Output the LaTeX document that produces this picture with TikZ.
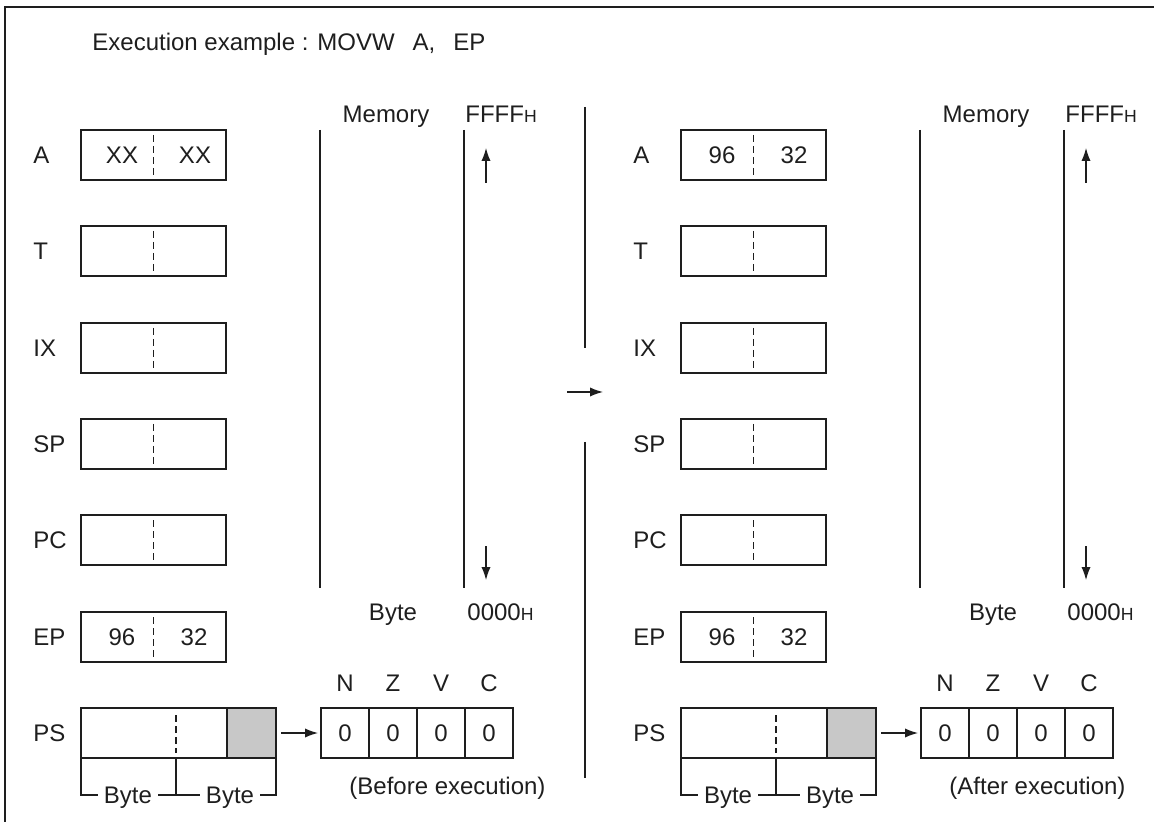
\documentclass[tikz,border=0pt]{standalone}
\usepackage{fontspec}
\setmainfont{Liberation Sans}
\usetikzlibrary{arrows.meta,positioning}
\definecolor{ccrgray}{HTML}{C8C8C8}
\definecolor{ink}{HTML}{1E1E1E}
\newcommand{\hexsuf}{{\fontsize{8.8pt}{10pt}\selectfont H}}

\begin{document}
\begin{tikzpicture}[
  x=0.5pt, y=-0.5pt,
  font=\fontsize{12pt}{14pt}\selectfont, color=ink,
  txt/.style={inner sep=0pt, text height=8.6pt, text depth=0pt},
  divider/.style={line width=0.6pt, dash pattern=on 3.5pt off 2pt},
  reg/.style={draw, line width=0.6pt, minimum width=72.5pt, minimum height=25pt,
              inner sep=0pt, outer sep=0pt,
              path picture={\draw[divider] ([yshift=-2.5pt]path picture bounding box.north)
                                        -- ([yshift=2.5pt]path picture bounding box.south);}},
  psreg/.style={draw, line width=0.6pt, minimum width=73pt, minimum height=25pt,
                inner sep=0pt, outer sep=0pt},
  flag/.style={draw, line width=0.6pt, minimum width=24pt, minimum height=25pt,
               inner sep=0pt, outer sep=0pt, text height=8.6pt, text depth=0pt},
  brace/.style={txt, inner xsep=3pt},
  thinline/.style={line width=0.6pt},
  flow/.style={draw, line width=0.6pt, -{Latex[length=6.5pt, width=4.6pt]}},
  frame/.style={line width=1.3pt}
]
\useasboundingbox (0,0) rectangle (1154,822);
\draw[frame] (5,830) -- (5,7) -- (1160,7);

\node[txt, anchor=west] (title) at (92,42)
  {Execution example : MOVW\hspace{0.75em}A,\hspace{0.75em}EP};

% ---- before execution ----
\node[txt, anchor=west] (bAlab)  at (33,155) {A};
\node[txt, anchor=west] (bTlab)  at (33,251) {T};
\node[txt, anchor=west] (bIXlab) at (33,348) {IX};
\node[txt, anchor=west] (bSPlab) at (33,444) {SP};
\node[txt, anchor=west] (bPClab) at (33,540) {PC};
\node[txt, anchor=west] (bEPlab) at (33,637) {EP};
\node[txt, anchor=west] (bPSlab) at (33,733) {PS};

\node[reg] (bA)  at (153.5,155) {};
\node[reg] (bT)  at (153.5,251) {};
\node[reg] (bIX) at (153.5,348) {};
\node[reg] (bSP) at (153.5,444) {};
\node[reg] (bPC) at (153.5,540) {};
\node[reg] (bEP) at (153.5,637) {};
\node[txt] (bAhi)  at (122,155) {XX};
\node[txt] (bAlo)  at (195,155) {XX};
\node[txt] (bEPhi) at (122,637) {96};
\node[txt] (bEPlo) at (194,637) {32};

\node[psreg] (bPS) at (154,733) {};
\node[psreg, fill=ccrgray, minimum width=24.5pt, right=0pt of bPS] (bCCR) {};
\coordinate (bmid)    at ([xshift=11pt]bPS.south);
\coordinate (bmidtop) at ([xshift=11pt]bPS.north);
\draw[divider] ([yshift=-3.5pt]bmidtop) -- ([yshift=2.5pt]bmid);

\node[brace] (bbyte1) at (128,795) {Byte};
\node[brace] (bbyte2) at (230,795) {Byte};
\draw[thinline] (bPS.south west) |- (bbyte1.west);
\draw[thinline] (bbyte1.east) -- (bbyte2.west);
\draw[thinline] (bmid) -- (bmid |- bbyte1.east);
\draw[thinline] (bbyte2.east) -| (bCCR.south east);

\node[flag] (bN) at (345,733) {0};
\node[flag, right=0pt of bN] (bZ) {0};
\node[flag, right=0pt of bZ] (bV) {0};
\node[flag, right=0pt of bV] (bC) {0};
\node[txt, above=8pt of bN] (bNlab) {N};
\node[txt, above=8pt of bZ] (bZlab) {Z};
\node[txt, above=8pt of bV] (bVlab) {V};
\node[txt, above=8pt of bC] (bClab) {C};
\draw[flow, shorten <=2.5pt, shorten >=1.5pt] (bCCR) -- (bN);
\node[txt, anchor=west] (bnote) at (349,786) {(Before execution)};

\draw[thinline] (320,130) -- (320,588);
\draw[thinline] (464,130) -- (464,588);
\node[txt] (bmem) at (386,113.5) {Memory};
\node[txt, anchor=west] (btop) at (465,113.5) {FFFF\hexsuf};
\node[txt] (bunit) at (393,612) {Byte};
\node[txt, anchor=west] (bbot) at (467,612) {0000\hexsuf};
\draw[flow] (486,183) -- (486,148);
\draw[flow] (486,546) -- (486,580);

% ---- separator ----
\draw[thinline] (585,107) -- (585,348);
\draw[thinline] (585,442) -- (585,778);
\draw[flow] (567,392) -- (603,392);

% ---- after execution ----
\node[txt, anchor=west] (aAlab)  at (633,155) {A};
\node[txt, anchor=west] (aTlab)  at (633,251) {T};
\node[txt, anchor=west] (aIXlab) at (633,348) {IX};
\node[txt, anchor=west] (aSPlab) at (633,444) {SP};
\node[txt, anchor=west] (aPClab) at (633,540) {PC};
\node[txt, anchor=west] (aEPlab) at (633,637) {EP};
\node[txt, anchor=west] (aPSlab) at (633,733) {PS};

\node[reg] (aA)  at (753.5,155) {};
\node[reg] (aT)  at (753.5,251) {};
\node[reg] (aIX) at (753.5,348) {};
\node[reg] (aSP) at (753.5,444) {};
\node[reg] (aPC) at (753.5,540) {};
\node[reg] (aEP) at (753.5,637) {};
\node[txt] (aAhi)  at (722,155) {96};
\node[txt] (aAlo)  at (794,155) {32};
\node[txt] (aEPhi) at (722,637) {96};
\node[txt] (aEPlo) at (794,637) {32};

\node[psreg] (aPS) at (754,733) {};
\node[psreg, fill=ccrgray, minimum width=24.5pt, right=0pt of aPS] (aCCR) {};
\coordinate (amid)    at ([xshift=11pt]aPS.south);
\coordinate (amidtop) at ([xshift=11pt]aPS.north);
\draw[divider] ([yshift=-3.5pt]amidtop) -- ([yshift=2.5pt]amid);

\node[brace] (abyte1) at (728,795) {Byte};
\node[brace] (abyte2) at (830,795) {Byte};
\draw[thinline] (aPS.south west) |- (abyte1.west);
\draw[thinline] (abyte1.east) -- (abyte2.west);
\draw[thinline] (amid) -- (amid |- abyte1.east);
\draw[thinline] (abyte2.east) -| (aCCR.south east);

\node[flag] (aN) at (945,733) {0};
\node[flag, right=0pt of aN] (aZ) {0};
\node[flag, right=0pt of aZ] (aV) {0};
\node[flag, right=0pt of aV] (aC) {0};
\node[txt, above=8pt of aN] (aNlab) {N};
\node[txt, above=8pt of aZ] (aZlab) {Z};
\node[txt, above=8pt of aV] (aVlab) {V};
\node[txt, above=8pt of aC] (aClab) {C};
\draw[flow, shorten <=2.5pt, shorten >=1.5pt] (aCCR) -- (aN);
\node[txt, anchor=west] (anote) at (949,786) {(After execution)};

\draw[thinline] (920,130) -- (920,588);
\draw[thinline] (1064,130) -- (1064,588);
\node[txt] (amem) at (986,113.5) {Memory};
\node[txt, anchor=west] (atop) at (1065,113.5) {FFFF\hexsuf};
\node[txt] (aunit) at (993,612) {Byte};
\node[txt, anchor=west] (abot) at (1067,612) {0000\hexsuf};
\draw[flow] (1086,183) -- (1086,148);
\draw[flow] (1086,546) -- (1086,580);
\end{tikzpicture}
\end{document}
